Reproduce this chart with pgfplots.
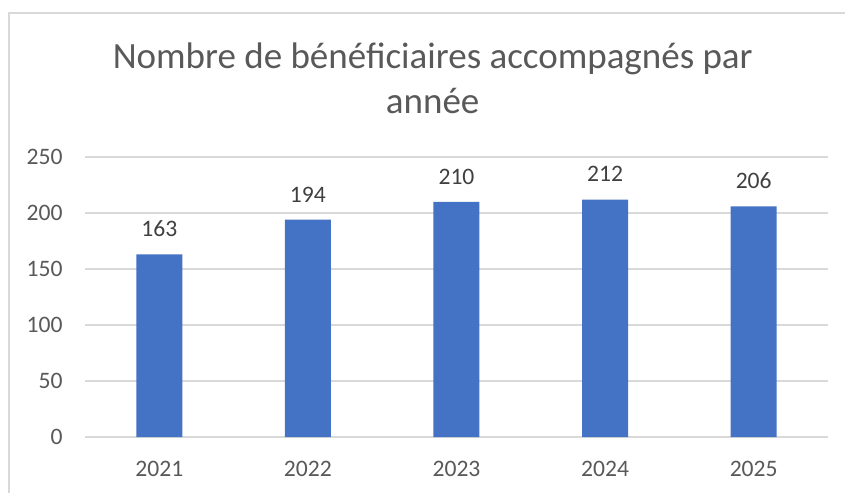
\documentclass[border=0pt]{standalone}
\usepackage{fontspec}
\setmainfont{Carlito}
\usepackage{pgfplots}
\pgfplotsset{compat=1.18}
\definecolor{barblue}{HTML}{4472C4}
\definecolor{gridgray}{HTML}{D9D9D9}
\definecolor{txtgray}{HTML}{595959}
\definecolor{lblgray}{HTML}{404040}
\begin{document}
\begin{tikzpicture}
\useasboundingbox (0,0) rectangle (422.5bp,246.5bp);
\draw[gridgray, line width=0.75bp] (4.5bp,0) -- (4.5bp,240bp) -- (422.5bp,240bp);
\node[anchor=base, inner sep=0pt, text=txtgray, font=\fontsize{18.5bp}{22.5bp}\selectfont] at (216.35bp,212.35bp) {Nombre de bénéficiaires accompagnés par};
\node[anchor=base, inner sep=0pt, text=txtgray, font=\fontsize{18.5bp}{22.5bp}\selectfont] at (216.35bp,189.85bp) {année};
\begin{axis}[
  at={(42.5bp,28bp)}, anchor=south west,
  scale only axis, width=371.5bp, height=140bp,
  xmin=-0.5, xmax=4.5, ymin=0, ymax=250,
  ytick={0,50,100,150,200,250},
  xtick={0,1,2,3,4},
  xticklabels={2021,2022,2023,2024,2025},
  axis x line*=bottom, axis y line*=left,
  x axis line style={gridgray, line width=0.75bp, -},
  y axis line style={draw=none},
  ymajorgrids, grid style={gridgray, line width=0.75bp},
  major tick length=0pt,
  /pgf/number format/assume math mode=true,
  tick label style={font=\fontsize{11.8bp}{14bp}\selectfont, text=txtgray, inner sep=0pt},
  yticklabel style={anchor=east, xshift=-11bp},
  xticklabel style={anchor=base, yshift=-19.85bp},
  ybar, bar width=23bp,
  nodes near coords,
  every node near coord/.append style={anchor=base, inner sep=0pt, yshift=8.85bp, text=lblgray, font=\fontsize{11.8bp}{14bp}\selectfont},
  clip=false,
]
\addplot[fill=barblue, draw=none] coordinates {(0,163) (1,194) (2,210) (3,212) (4,206)};
\end{axis}
\end{tikzpicture}
\end{document}
